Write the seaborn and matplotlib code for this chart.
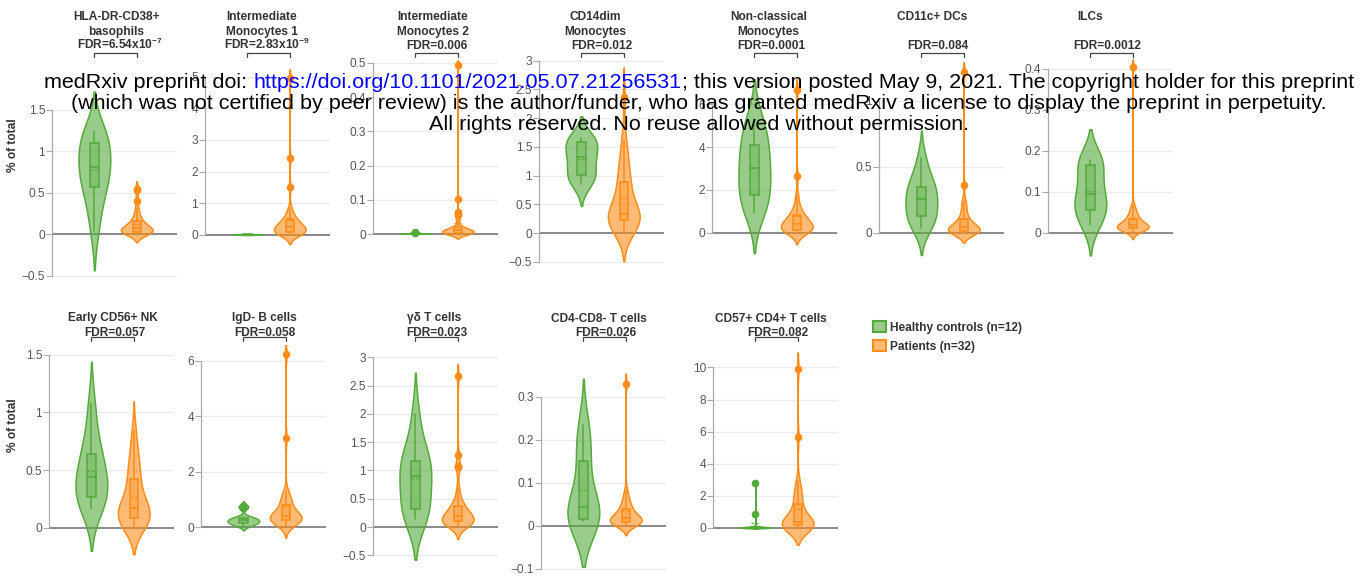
import numpy as np
import matplotlib
matplotlib.use("Agg")
import matplotlib.pyplot as plt
import matplotlib.transforms as mtransforms
from matplotlib.patches import Rectangle, Patch
from matplotlib.colors import to_rgba
from matplotlib import cbook
import seaborn as sns

# ---- data (% of total) ----
GROUPS = ["Healthy controls (n=12)", "Patients (n=32)"]

basophils_ctrl = [0.04, 0.30, 0.52, 0.58, 0.70, 0.78, 0.84, 0.92, 1.08, 1.14, 1.18, 1.24]
basophils_pat = [0.00, 0.005, 0.01, 0.01, 0.015, 0.02, 0.02, 0.025, 0.03, 0.035, 0.04, 0.045,
                 0.05, 0.055, 0.06, 0.065, 0.075, 0.08, 0.09, 0.10, 0.11, 0.12, 0.13, 0.15,
                 0.17, 0.19, 0.22, 0.26, 0.31, 0.40, 0.53, 0.54]

int_mono1_ctrl = [0.004, 0.006, 0.008, 0.010, 0.011, 0.012, 0.014, 0.016, 0.018, 0.021, 0.025, 0.028]
int_mono1_pat = [0.00, 0.02, 0.04, 0.05, 0.06, 0.07, 0.08, 0.09, 0.11, 0.13, 0.15, 0.17,
                 0.19, 0.21, 0.23, 0.24, 0.26, 0.28, 0.31, 0.34, 0.37, 0.40, 0.43, 0.46,
                 0.50, 0.56, 0.64, 0.72, 0.85, 1.50, 2.42, 4.95]

int_mono2_ctrl = [0.0008, 0.0009, 0.0010, 0.0011, 0.0012, 0.0013, 0.0014, 0.0015, 0.0016, 0.0018, 0.0040, 0.0045]
int_mono2_pat = [0.000, 0.0005, 0.001, 0.0015, 0.002, 0.0025, 0.003, 0.0035, 0.004, 0.0045, 0.005, 0.006,
                 0.007, 0.008, 0.009, 0.010, 0.011, 0.012, 0.013, 0.014, 0.015, 0.016, 0.018, 0.020,
                 0.024, 0.038, 0.045, 0.055, 0.058, 0.063, 0.103, 0.494]

cd14dim_ctrl = [0.85, 0.93, 0.98, 1.02, 1.15, 1.28, 1.35, 1.42, 1.57, 1.60, 1.63, 1.65]
cd14dim_pat = [0.03, 0.08, 0.12, 0.15, 0.17, 0.19, 0.20, 0.21, 0.23, 0.25, 0.27, 0.28,
               0.30, 0.31, 0.32, 0.33, 0.34, 0.38, 0.45, 0.55, 0.65, 0.75, 0.82, 0.88,
               0.92, 1.00, 1.10, 1.20, 1.35, 1.50, 1.62, 2.36]

nonclassical_ctrl = [0.93, 1.30, 1.60, 1.85, 2.40, 2.85, 3.15, 3.50, 4.00, 4.45, 4.90, 5.30]
nonclassical_pat = [0.00, 0.05, 0.08, 0.10, 0.12, 0.13, 0.14, 0.15, 0.16, 0.20, 0.24, 0.28,
                    0.32, 0.36, 0.40, 0.42, 0.44, 0.48, 0.52, 0.56, 0.62, 0.68, 0.74, 0.80,
                    0.86, 0.95, 1.05, 1.20, 1.45, 1.78, 2.64, 6.65]

cd11c_ctrl = [0.04, 0.08, 0.11, 0.13, 0.18, 0.24, 0.28, 0.31, 0.34, 0.38, 0.45, 0.57]
cd11c_pat = [0.000, 0.003, 0.005, 0.007, 0.008, 0.009, 0.010, 0.011, 0.013, 0.016, 0.019, 0.022,
             0.026, 0.030, 0.035, 0.040, 0.046, 0.052, 0.058, 0.064, 0.070, 0.078, 0.088, 0.100,
             0.120, 0.140, 0.160, 0.190, 0.230, 0.240, 0.360, 1.220]

ilc_ctrl = [0.020, 0.035, 0.050, 0.057, 0.075, 0.090, 0.098, 0.120, 0.165, 0.172, 0.175, 0.178]
ilc_pat = [0.003, 0.005, 0.007, 0.008, 0.009, 0.010, 0.011, 0.011, 0.012, 0.013, 0.014, 0.015,
           0.016, 0.017, 0.018, 0.019, 0.020, 0.021, 0.022, 0.024, 0.026, 0.028, 0.031, 0.034,
           0.037, 0.040, 0.044, 0.048, 0.053, 0.060, 0.068, 0.405]

early_nk_ctrl = [0.16, 0.22, 0.25, 0.27, 0.35, 0.42, 0.46, 0.52, 0.63, 0.68, 0.85, 1.08]
early_nk_pat = [0.02, 0.03, 0.04, 0.05, 0.06, 0.065, 0.07, 0.075, 0.085, 0.10, 0.11, 0.12,
                0.13, 0.14, 0.155, 0.165, 0.18, 0.20, 0.22, 0.25, 0.28, 0.32, 0.37, 0.42,
                0.45, 0.48, 0.52, 0.56, 0.61, 0.68, 0.76, 0.85]

igd_b_ctrl = [0.05, 0.10, 0.13, 0.16, 0.20, 0.23, 0.26, 0.29, 0.32, 0.36, 0.70, 0.76]
igd_b_pat = [0.03, 0.08, 0.12, 0.15, 0.18, 0.21, 0.24, 0.26, 0.27, 0.29, 0.31, 0.33,
             0.35, 0.37, 0.39, 0.40, 0.42, 0.45, 0.48, 0.52, 0.57, 0.63, 0.70, 0.78,
             0.85, 0.92, 1.00, 1.08, 1.17, 1.30, 3.22, 6.23]

gd_t_ctrl = [0.15, 0.22, 0.30, 0.33, 0.62, 0.85, 0.95, 1.02, 1.12, 1.30, 1.45, 2.00]
gd_t_pat = [0.01, 0.03, 0.05, 0.06, 0.07, 0.08, 0.09, 0.095, 0.10, 0.11, 0.12, 0.13,
            0.14, 0.15, 0.17, 0.19, 0.21, 0.23, 0.25, 0.27, 0.29, 0.32, 0.34, 0.37,
            0.41, 0.46, 0.55, 0.69, 1.06, 1.07, 1.28, 2.66]

dn_t_ctrl = [0.012, 0.013, 0.014, 0.016, 0.025, 0.038, 0.048, 0.075, 0.145, 0.165, 0.21, 0.235]
dn_t_pat = [0.002, 0.004, 0.005, 0.006, 0.007, 0.008, 0.008, 0.0085, 0.009, 0.010, 0.011, 0.012,
            0.013, 0.015, 0.017, 0.018, 0.020, 0.022, 0.024, 0.026, 0.028, 0.030, 0.033, 0.038,
            0.042, 0.046, 0.050, 0.055, 0.062, 0.072, 0.082, 0.330]

cd57_ctrl = [0.005, 0.01, 0.015, 0.02, 0.025, 0.03, 0.04, 0.05, 0.07, 0.10, 0.85, 2.83]
cd57_pat = [0.00, 0.02, 0.04, 0.06, 0.08, 0.10, 0.12, 0.14, 0.16, 0.19, 0.22, 0.25,
            0.28, 0.30, 0.32, 0.34, 0.36, 0.42, 0.50, 0.60, 0.75, 0.95, 1.20, 1.45,
            1.60, 1.80, 2.05, 2.30, 2.60, 2.90, 5.66, 9.90]

TOP_TITLES = [["HLA-DR-CD38+", "basophils"], ["Intermediate", "Monocytes 1"],
              ["Intermediate", "Monocytes 2"], ["CD14dim", "Monocytes"],
              ["Non-classical", "Monocytes"], ["CD11c+ DCs", ""], ["ILCs", ""]]
TOP_FDR = [r"FDR=6.54x10$^{\mathbf{-7}}$", r"FDR=2.83x10$^{\mathbf{-9}}$", "FDR=0.006",
           "FDR=0.012", "FDR=0.0001", "FDR=0.084", "FDR=0.0012"]
BOTTOM_TITLES = [["Early CD56+ NK"], ["IgD- B cells"], ["γδ T cells"],
                 ["CD4-CD8- T cells"], ["CD57+ CD4+ T cells"]]
BOTTOM_FDR = ["FDR=0.057", "FDR=0.058", "FDR=0.023", "FDR=0.026", "FDR=0.082"]

TOP_DATA = [(basophils_ctrl, basophils_pat), (int_mono1_ctrl, int_mono1_pat),
            (int_mono2_ctrl, int_mono2_pat), (cd14dim_ctrl, cd14dim_pat),
            (nonclassical_ctrl, nonclassical_pat), (cd11c_ctrl, cd11c_pat), (ilc_ctrl, ilc_pat)]
BOTTOM_DATA = [(early_nk_ctrl, early_nk_pat), (igd_b_ctrl, igd_b_pat), (gd_t_ctrl, gd_t_pat),
               (dn_t_ctrl, dn_t_pat), (cd57_ctrl, cd57_pat)]

TOP_TICKS = [[-0.5, 0, 0.5, 1, 1.5], [0, 1, 2, 3, 4, 5], [0, 0.1, 0.2, 0.3, 0.4, 0.5],
             [-0.5, 0, 0.5, 1, 1.5, 2, 2.5, 3], [0, 2, 4, 6], [0, 0.5, 1], [0, 0.1, 0.2, 0.3, 0.4]]
BOTTOM_TICKS = [[0, 0.5, 1, 1.5], [0, 2, 4, 6], [-0.5, 0, 0.5, 1, 1.5, 2, 2.5, 3],
                [-0.1, 0, 0.1, 0.2, 0.3], [0, 2, 4, 6, 8, 10]]

# y ranges chosen so every panel shares one pixel domain per row
TOP_YRANGE = [(-0.614, 2.157), (-1.58, 5.68), (-0.149, 0.523), (-0.904, 3.096),
              (-2.42, 8.28), (-0.394, 1.348), (-0.127, 0.434)]
BOTTOM_YRANGE = [(-0.407, 1.583), (-1.73, 6.57), (-0.848, 3.216), (-0.114, 0.42), (-2.93, 11.4)]

# ---- layout (pixels) ----
W, H = 1371, 578
TOP_LEFT = [52, 205, 373, 539, 712, 879, 1048]
BOTTOM_LEFT = [49, 201, 373, 541, 713]
TOP_TITLE_DX = [1, -7, -4, -7, -7, -10, -21]
TOP_FDR_DX = [4, -2, 0, -1, -4, -5, -4]
BOTTOM_TITLE_DX = [0, 0, -2, -6, -6]
BOTTOM_FDR_DX = [2, 0, 0, 1, 1]
PANEL_W = 125
XLIM = (-1.0, 1.95)

EDGE = ["#55aa3c", "#ff8c19"]
FILL_ALPHA = 0.6
TXT = "#333333"
FS = 8.6

sns.set_theme(style="white")
plt.rcParams["font.family"] = ["Liberation Sans", "DejaVu Sans"]
plt.rcParams["mathtext.fontset"] = "custom"
plt.rcParams["mathtext.rm"] = "Liberation Sans"
plt.rcParams["mathtext.bf"] = "Liberation Sans:bold"

fig = plt.figure(figsize=(W / 100, H / 100), dpi=100)


def plotly_bw_factor(vals):
    """Silverman bandwidth the way plotly does it, as a factor of the std."""
    v = np.asarray(vals, dtype=float)
    s = v.std(ddof=1)
    q1, q3 = np.percentile(v, [25, 75])
    bw = 1.059 * min(s, (q3 - q1) / 1.349) * len(v) ** -0.2
    return bw / s


def fmt(t):
    return f"{t:g}".replace("-", "\u2212")


def shift(dx):
    return mtransforms.ScaledTranslation(dx / 100, 0, fig.dpi_scale_trans)


def draw_panel(left, top, vals_pair, ticks, yrange, title_lines, fdr, title_dx, fdr_dx,
               baselines, bracket_y):
    ax = fig.add_axes([left / W, 1 - (top + 230) / H, PANEL_W / W, 230 / H])
    ax.patch.set_alpha(0)

    ax.hlines([t for t in ticks if t != 0], XLIM[0], XLIM[1], color="#ececec", lw=1, zorder=0)
    ax.axhline(0, color="#808080", lw=1.3, zorder=1)

    for i, (vals, col) in enumerate(zip(vals_pair, EDGE)):
        sns.violinplot(x=[GROUPS[i]] * len(vals), y=vals, order=GROUPS, color=col, linecolor=col,
                       saturation=1, inner=None, cut=2, width=0.75, density_norm="width",
                       bw_method=plotly_bw_factor(vals), gridsize=400, linewidth=1.1, ax=ax)
        ax.collections[-1].set_facecolor(to_rgba(col, FILL_ALPHA))
        ax.collections[-1].set_zorder(2)

        st = cbook.boxplot_stats(np.asarray(vals, dtype=float), whis=1.5)[0]
        bwid = 0.2
        ax.add_patch(Rectangle((i - bwid / 2, st["q1"]), bwid, st["q3"] - st["q1"],
                               facecolor=to_rgba(col, 0.3), edgecolor=col, lw=1.1, zorder=3))
        ax.plot([i - bwid / 2, i + bwid / 2], [st["med"]] * 2, color=col, lw=1.1, zorder=4)
        ax.plot([i - bwid / 2, i + bwid / 2], [st["mean"]] * 2, color=col, lw=0.9,
                ls=(0, (2, 1.5)), zorder=4)
        ax.plot([i, i], [st["whislo"], st["q1"]], color=col, lw=1.1, zorder=3)
        ax.plot([i, i], [st["q3"], st["whishi"]], color=col, lw=1.1, zorder=3)
        fl = st["fliers"]
        if len(fl):
            ax.plot([i] * len(fl), fl, "o", ms=4.5, color=col, mec=col, zorder=5, clip_on=False)

    ax.set_xlim(*XLIM)
    ax.set_ylim(*yrange)
    ax.set_xticks([])
    ax.set_xlabel("")
    ax.set_ylabel("")
    ax.set_yticks(ticks)
    ax.set_yticklabels([fmt(t) for t in ticks])
    ax.tick_params(axis="y", length=4, width=0.8, color="#aaaaaa", labelsize=FS,
                   labelcolor="#555555", pad=1, left=True)
    for s in ["top", "right", "bottom"]:
        ax.spines[s].set_visible(False)
    ax.spines["left"].set_bounds(ticks[0], ticks[-1])
    ax.spines["left"].set_color("#aaaaaa")
    ax.spines["left"].set_linewidth(0.9)

    # significance bracket + titles, x in data units, y in figure pixels
    tr = mtransforms.blended_transform_factory(ax.transData, fig.transFigure)
    yb, yt = 1 - bracket_y / H, 1 - (bracket_y + 4) / H
    ax.plot([0, 0, 1, 1], [yt, yb, yb, yt], transform=tr, color="#444444", lw=0.9, clip_on=False)
    for k, line in enumerate(title_lines):
        ax.text(0.5, 1 - baselines[k] / H, line, transform=tr + shift(title_dx),
                ha="center", va="baseline", fontsize=FS, fontweight="bold", color=TXT)
    ax.text(0.5, 1 - baselines[-1] / H, fdr, transform=tr + shift(fdr_dx),
            ha="center", va="baseline", fontsize=FS, fontweight="bold", color=TXT)
    return ax


for j in range(7):
    draw_panel(TOP_LEFT[j], 55, TOP_DATA[j], TOP_TICKS[j], TOP_YRANGE[j], TOP_TITLES[j],
               TOP_FDR[j], TOP_TITLE_DX[j], TOP_FDR_DX[j], [20, 34.5, 49], 53)

for j in range(5):
    draw_panel(BOTTOM_LEFT[j], 345, BOTTOM_DATA[j], BOTTOM_TICKS[j], BOTTOM_YRANGE[j],
               BOTTOM_TITLES[j], BOTTOM_FDR[j], BOTTOM_TITLE_DX[j], BOTTOM_FDR_DX[j],
               [321.5, 336], 337)

for yc in [145, 425]:
    fig.text(13 / W, 1 - yc / H, "% of total", rotation=90, ha="center", va="center",
             fontsize=FS, fontweight="bold", color=TXT)

handles = [Patch(facecolor=to_rgba(c, FILL_ALPHA), edgecolor=c, lw=1.5) for c in EDGE]
fig.legend(handles=handles, labels=GROUPS, loc="upper left", bbox_to_anchor=(873 / W, 1 - 321 / H),
           frameon=False, prop=dict(weight="bold", size=FS), handlelength=1.05, handleheight=1.05,
           handletextpad=0.35, labelspacing=0.55, borderpad=0, borderaxespad=0, labelcolor=TXT)

# ---- medRxiv stamp over the figure ----
WM_SIZE = 15.45
WM_X = 699
line1 = ["medRxiv preprint doi: ", "https://doi.org/10.1101/2021.05.07.21256531",
         "; this version posted May 9, 2021. The copyright holder for this preprint"]
line1_colors = ["black", "#0000ff", "black"]
line2 = "(which was not certified by peer review) is the author/funder, who has granted medRxiv a license to display the preprint in perpetuity."
line3 = "All rights reserved. No reuse allowed without permission."

renderer = fig.canvas.get_renderer()


def text_w(s):
    t = fig.text(0, 0, s, fontsize=WM_SIZE)
    w = t.get_window_extent(renderer).width
    t.remove()
    return w


bar_w = text_w("|")
full_w = text_w("".join(line1) + "|") - bar_w
x0 = WM_X - full_w / 2
prefix = ""
for part, c in zip(line1, line1_colors):
    off = text_w(prefix + "|") - bar_w if prefix else 0
    fig.text((x0 + off) / W, 1 - 88 / H, part, fontsize=WM_SIZE, color=c, ha="left",
             va="baseline", zorder=10)
    prefix += part
fig.text(WM_X / W, 1 - 109 / H, line2, fontsize=WM_SIZE, color="black", ha="center",
         va="baseline", zorder=10)
fig.text(WM_X / W, 1 - 130 / H, line3, fontsize=WM_SIZE, color="black", ha="center",
         va="baseline", zorder=10)

fig.savefig("out.png", dpi=100)
